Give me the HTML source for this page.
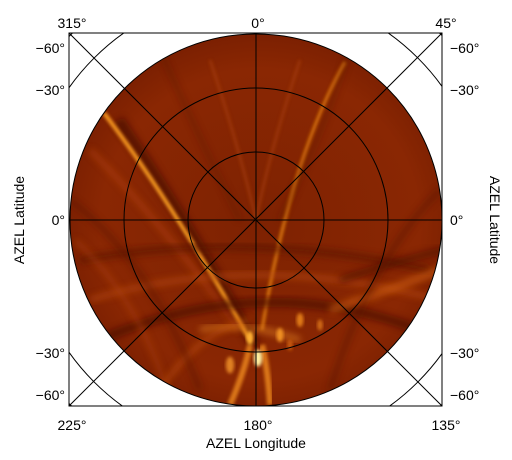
<!DOCTYPE html>
<html><head><meta charset="utf-8"><style>
html,body{margin:0;padding:0;background:#fff;width:512px;height:460px;overflow:hidden}
svg{display:block;font-family:"Liberation Sans",sans-serif}
text{font-size:14px;fill:#000}
</style></head><body>
<svg id="c" width="512" height="460">
<defs>
<clipPath id="disk"><circle cx="256" cy="220" r="186"/></clipPath>
<clipPath id="frame"><rect x="69" y="33" width="373" height="373"/></clipPath>
<filter id="b1" x="-20%" y="-20%" width="140%" height="140%"><feGaussianBlur stdDeviation="1.6"/></filter>
<filter id="b2" x="-20%" y="-20%" width="140%" height="140%"><feGaussianBlur stdDeviation="3.5"/></filter>
<radialGradient id="bg" cx="50%" cy="50%" r="50%">
<stop offset="0" stop-color="#7e2202"/><stop offset="0.8" stop-color="#8a2703"/><stop offset="1" stop-color="#7a1f01"/></radialGradient>
</defs>
<g clip-path="url(#disk)">
<rect x="60" y="30" width="400" height="390" fill="url(#bg)"/>
<g id="streaks"></g>
</g>
<g id="grid" fill="none" stroke="#000" stroke-width="1"></g>
<rect x="69" y="33" width="373" height="373" fill="none" stroke="#000"/>
<g id="labels"></g>
<text x="256" y="448" text-anchor="middle">AZEL Longitude</text>
<text transform="translate(24,220) rotate(-90)" text-anchor="middle">AZEL Latitude</text>
<text transform="translate(490,220) rotate(90)" text-anchor="middle">AZEL Latitude</text>
</svg>
<script>
const NS="http://www.w3.org/2000/svg";
// streak data: [x1,y1,cx,cy,x2,y2,width,color,opacity,blur]
const streakPaths=[
 [118,120,180,210,255,345,12,"#4a0e00",0.7,2],
 [104,113,170,200,250,340,4,"#ffa020",0.95,1],
 [345,62,290,160,262,330,3,"#f08a10",0.85,1],
 [90,150,160,220,240,330,6,"#b94510",0.5,2],
 [80,260,250,230,430,270,8,"#5a1400",0.6,2],
 [90,300,250,250,440,300,7,"#b8480c",0.55,2],
 [100,340,260,270,420,330,9,"#4c1000",0.7,2],
 [330,310,390,290,440,270,8,"#d06010",0.6,2],
 [340,280,400,260,445,250,7,"#4c1000",0.6,2],
 [200,330,240,320,300,340,6,"#e08020",0.6,2],
 [160,390,200,330,250,320,5,"#cc5a10",0.5,2],
 [230,405,245,370,250,345,6,"#ff9a20",0.7,1],
 [270,405,268,370,262,345,6,"#ff9a20",0.7,1],
 [300,60,270,150,256,220,3,"#b04510",0.5,1],
 [210,60,240,150,256,220,3,"#b04510",0.5,1],
 [70,200,150,260,200,390,6,"#5a1400",0.5,2],
 [440,190,370,260,330,390,6,"#5a1400",0.5,2],
 [75,240,140,300,170,400,5,"#b0420c",0.5,2],
 [160,50,200,140,240,220,4,"#5a1400",0.5,2],
 [350,50,320,140,280,220,4,"#5a1400",0.5,2]
];
const spotX=[258,250,280,300,230,320,290];
const spotY=[358,338,335,320,365,325,345];
const spotR=[6,5,5,5,6,4,4];
const spotC=["#fff0a0","#ffb030","#f09020","#e07a18","#e08020","#d06a14","#c85a10"];
const s=document.getElementById('streaks');
streakPaths.forEach(p=>{
 const e=document.createElementNS(NS,'path');
 
 
 e.setAttribute('d',`M${p[0]},${p[1]} Q${p[2]},${p[3]} ${p[4]},${p[5]}`);
 e.setAttribute('stroke',p[7]);e.setAttribute('stroke-width',p[6]);
 e.setAttribute('fill','none');e.setAttribute('opacity',p[8]);
 e.setAttribute('filter',p[9]==1?'url(#b1)':'url(#b2)');
 s.appendChild(e);
});
spotX.forEach((x,i)=>{
 const e=document.createElementNS(NS,'ellipse');
 
 
 e.setAttribute('cx',x);e.setAttribute('cy',spotY[i]);
 e.setAttribute('rx',spotR[i]*0.7);e.setAttribute('ry',spotR[i]*1.4);
 e.setAttribute('fill',spotC[i]);e.setAttribute('filter','url(#b1)');
 s.appendChild(e);
});
const g=document.getElementById('grid');
const gf=document.createElementNS(NS,'g');gf.setAttribute('clip-path','url(#frame)');g.appendChild(gf);
const ringR=[68,132,186,229,262];
ringR.forEach(r=>{
 const c=document.createElementNS(NS,'circle');
 
 
 c.setAttribute('cx',256);c.setAttribute('cy',220);c.setAttribute('r',r);
 gf.appendChild(c);
});
const lines=[[69,33,442,406],[442,33,69,406],[69,220,442,220],[256,33,256,406]];
lines.forEach(l=>{
 const e=document.createElementNS(NS,'line');
 
 
 e.setAttribute('x1',l[0]);e.setAttribute('y1',l[1]);e.setAttribute('x2',l[2]);e.setAttribute('y2',l[3]);
 gf.appendChild(e);
});
const lab=document.getElementById('labels');
function t(x,y,str,anchor){const e=document.createElementNS(NS,'text');
 
 
 e.setAttribute('x',x);e.setAttribute('y',y);e.setAttribute('text-anchor',anchor);e.textContent=str;lab.appendChild(e);}
const topLabels=["315°","0°","45°"], botLabels=["225°","180°","135°"], lonX=[72,258,446];
lonX.forEach((x,i)=>{t(x,28,topLabels[i],'middle');t(x,430,botLabels[i],'middle');});
const latLabels=["−60°","−30°","0°","−30°","−60°"], latY=[53,95,225,358,400];
latY.forEach((y,i)=>{t(65,y,latLabels[i],'end');t(450,y,latLabels[i],'start');});
</script>
</body></html>
